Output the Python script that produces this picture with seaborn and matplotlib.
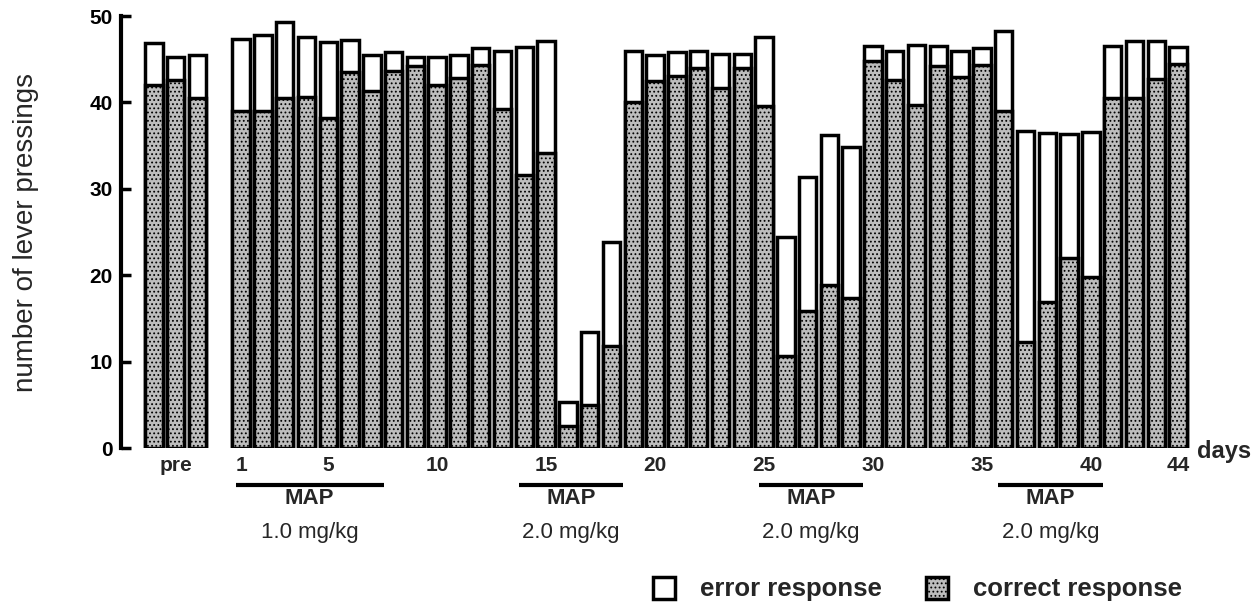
import matplotlib
matplotlib.use("Agg")
import matplotlib.pyplot as plt
import pandas as pd
import seaborn as sns
from matplotlib.patches import Patch

# Baseline sessions before treatment
pre_total = [46.9, 45.3, 45.5]
pre_correct = [42.0, 42.6, 40.5]

# Daily sessions (days 1-44): total presses and correct presses
days = list(range(1, 45))
day_total = [47.3, 47.8, 49.3, 47.6, 47.0, 47.2, 45.5, 45.8, 45.3, 45.3,
             45.5, 46.3, 46.0, 46.4, 47.1, 5.3, 13.4, 23.8, 46.0, 45.5,
             45.8, 46.0, 45.6, 45.6, 47.6, 24.4, 31.4, 36.2, 34.8, 46.5,
             46.0, 46.7, 46.5, 46.0, 46.3, 48.3, 36.7, 36.5, 36.4, 36.6,
             46.5, 47.1, 47.1, 46.4]
day_correct = [39.0, 39.0, 40.5, 40.6, 38.2, 43.5, 41.3, 43.6, 44.2, 42.0,
               42.8, 44.3, 39.2, 31.6, 34.1, 2.6, 5.0, 11.8, 40.0, 42.5,
               43.0, 44.0, 41.7, 44.0, 39.6, 10.6, 15.9, 18.9, 17.4, 44.8,
               42.6, 39.7, 44.2, 42.9, 44.3, 39.0, 12.3, 16.9, 22.0, 19.8,
               40.5, 40.5, 42.7, 44.5]

# Drug periods (first day, last day) and doses
map_periods = [(1, 7), (14, 18), (25, 29), (36, 40)]
map_doses = ["1.0 mg/kg", "2.0 mg/kg", "2.0 mg/kg", "2.0 mg/kg"]

day_ticks = [1, 5, 10, 15, 20, 25, 30, 35, 40, 44]
y_ticks = [0, 10, 20, 30, 40, 50]

sns.set_theme(style="white")
plt.rcParams["font.family"] = ["Liberation Sans", "DejaVu Sans"]
plt.rcParams["hatch.linewidth"] = 0.8

CORRECT_FILL = "#bdbdbd"

pre_pos = [-3, -2, -1]
df = pd.DataFrame({
    "pos": pre_pos + days,
    "total": pre_total + day_total,
    "correct": pre_correct + day_correct,
})

fig = plt.figure(figsize=(12.58, 6.05), dpi=100)
ax = fig.add_axes([121 / 1258, 157 / 605, 1 - 121 / 1258, 432 / 605])

bar_kw = dict(native_scale=True, edgecolor="black", linewidth=2.5,
              width=0.8, saturation=1, errorbar=None, ax=ax)
sns.barplot(data=df, x="pos", y="total", color="white", **bar_kw)
sns.barplot(data=df, x="pos", y="correct", color=CORRECT_FILL, hatch="....",
            **bar_kw)

ax.set_xlim(-4.51, 47.67)
ax.set_ylim(0, 50)
ax.set_xlabel("")
ax.set_ylabel("number of lever pressings", fontsize=20, labelpad=36)

for side in ("top", "right", "bottom"):
    ax.spines[side].set_visible(False)
ax.spines["left"].set_linewidth(3)
ax.spines["left"].set_color("black")

ax.set_yticks(y_ticks)
ax.set_yticklabels([str(v) for v in y_ticks], fontsize=15, fontweight="bold")
ax.tick_params(axis="y", direction="in", length=7, width=2.5, pad=6,
               left=True, colors="black")

ax.set_xticks([-2] + day_ticks)
ax.set_xticklabels(["pre"] + [str(d) for d in day_ticks], fontsize=15,
                   fontweight="bold")
ax.tick_params(axis="x", length=0, pad=6)

ax.text(44.85, -0.45, "days", fontsize=17, fontweight="bold",
        ha="left", va="center", clip_on=False)

for (start, end), dose in zip(map_periods, map_doses):
    x0, x1 = start - 0.25, end + 0.55
    xc = (x0 + x1) / 2
    ax.plot([x0, x1], [-4.3, -4.3], color="black", linewidth=3,
            solid_capstyle="butt", clip_on=False)
    ax.text(xc, -5.8, "MAP", fontsize=16, fontweight="bold",
            ha="center", va="center", clip_on=False)
    ax.text(xc, -9.8, dose, fontsize=16, ha="center", va="center",
            clip_on=False)

handles = [
    Patch(facecolor="white", edgecolor="black", linewidth=2.5,
          label="error response"),
    Patch(facecolor=CORRECT_FILL, edgecolor="black", linewidth=2.5,
          hatch="....", label="correct response"),
]
fig.legend(handles=handles, loc="center left",
           bbox_to_anchor=(640 / 1258, 1 - 589 / 605), ncol=2,
           frameon=False, handlelength=0.85, handleheight=0.95,
           handletextpad=1.0, columnspacing=1.7, borderpad=0,
           prop={"size": 18.5, "weight": "bold"})

fig.savefig("out.png", dpi=100)
